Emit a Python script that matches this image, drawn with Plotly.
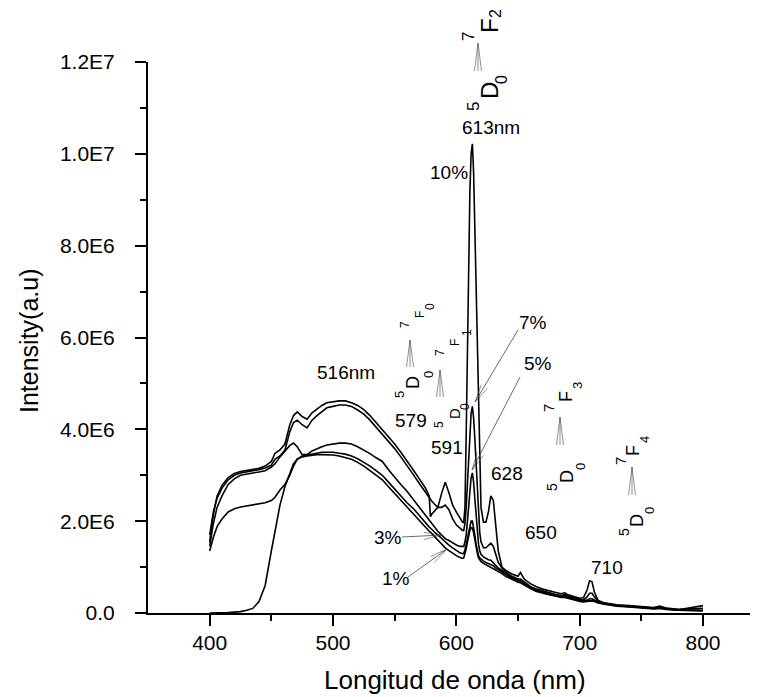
import plotly.graph_objects as go

# ---------------- data (intensity in units of 1E6 a.u.) ----------------
wavelength = [
    400, 403, 406, 410, 415, 420, 425, 430, 435, 440,
    445, 450, 453, 457, 461, 465, 468, 471, 475, 479,
    483, 487, 491, 495, 500, 505, 510, 515, 520, 525,
    530, 535, 540, 545, 550, 555, 560, 565, 570, 575,
    578, 579, 580, 582, 585, 588, 591, 594, 597, 600,
    603, 605, 606, 607, 608, 609, 610, 611, 612, 613,
    614, 615, 616, 617, 618, 619, 620, 622,
    624, 626, 628, 630, 632, 634, 637, 640, 645, 650,
    652, 655, 660, 665, 670, 675, 680, 685, 688, 690,
    695, 700, 703, 706, 708, 710, 712, 715, 720, 730,
    740, 750, 760, 765, 770, 780, 790, 800,
]

int_10 = [
    1.55, 2.15, 2.55, 2.78, 2.95, 3.04, 3.08, 3.10, 3.12, 3.15,
    3.20, 3.30, 3.48, 3.55, 3.68, 4.10, 4.30, 4.38, 4.28, 4.22,
    4.36, 4.45, 4.52, 4.58, 4.60, 4.62, 4.62, 4.58, 4.52, 4.43,
    4.30, 4.15, 4.00, 3.85, 3.68, 3.50, 3.32, 3.12, 2.92, 2.72,
    2.55, 2.10, 2.15, 2.22, 2.30, 2.60, 2.85, 2.62, 2.35, 2.20,
    2.05, 1.98, 1.97, 2.30, 3.90, 5.80, 7.60, 9.20, 10.00, 10.22,
    9.60, 8.40, 7.20, 5.90, 4.50, 3.20, 2.30, 1.98,
    1.98, 2.20, 2.55, 2.45, 1.80, 1.35, 1.00, 0.93, 0.85, 0.80,
    0.88, 0.74, 0.64, 0.57, 0.52, 0.48, 0.45, 0.42, 0.44, 0.40,
    0.36, 0.32, 0.33, 0.50, 0.70, 0.68, 0.45, 0.27, 0.22, 0.18,
    0.16, 0.14, 0.12, 0.15, 0.11, 0.08, 0.09, 0.10,
]

int_7 = [
    1.70, 2.20, 2.50, 2.72, 2.90, 3.00, 3.05, 3.08, 3.10, 3.12,
    3.16, 3.22, 3.35, 3.42, 3.55, 3.95, 4.15, 4.20, 4.10, 4.03,
    4.20, 4.30, 4.38, 4.47, 4.50, 4.53, 4.53, 4.50, 4.42, 4.33,
    4.20, 4.05, 3.90, 3.75, 3.58, 3.40, 3.22, 3.02, 2.82, 2.62,
    2.50, 2.47, 2.44, 2.38, 2.30, 2.30, 2.35, 2.25, 2.05, 1.92,
    1.85, 1.80, 1.80, 1.95, 2.30, 2.80, 3.30, 3.85, 4.35, 4.50,
    4.25, 3.80, 3.20, 2.60, 2.10, 1.75, 1.55, 1.42,
    1.42, 1.47, 1.52, 1.45, 1.25, 1.10, 0.98, 0.90, 0.80, 0.74,
    0.74, 0.68, 0.58, 0.52, 0.48, 0.44, 0.41, 0.38, 0.40, 0.37,
    0.33, 0.29, 0.28, 0.35, 0.43, 0.43, 0.35, 0.26, 0.21, 0.17,
    0.15, 0.13, 0.11, 0.13, 0.10, 0.07, 0.06, 0.06,
]

int_5 = [
    1.45, 1.95, 2.30, 2.55, 2.80, 2.92, 3.00, 3.03, 3.05, 3.07,
    3.10, 3.18, 3.25, 3.40, 3.52, 3.65, 3.70, 3.62, 3.45, 3.45,
    3.53, 3.58, 3.62, 3.66, 3.68, 3.70, 3.70, 3.68, 3.62, 3.55,
    3.47, 3.38, 3.30, 3.12, 2.95, 2.80, 2.65, 2.48, 2.30, 2.12,
    2.02, 1.98, 1.95, 1.88, 1.78, 1.70, 1.62, 1.58, 1.52, 1.48,
    1.45, 1.44, 1.45, 1.55, 1.70, 2.00, 2.30, 2.60, 2.95, 3.05,
    2.85, 2.50, 2.10, 1.75, 1.50, 1.35, 1.28, 1.22,
    1.18, 1.16, 1.15, 1.10, 1.03, 0.98, 0.93, 0.87, 0.78, 0.72,
    0.70, 0.65, 0.56, 0.50, 0.46, 0.42, 0.39, 0.36, 0.37, 0.35,
    0.31, 0.27, 0.26, 0.28, 0.31, 0.31, 0.28, 0.24, 0.20, 0.16,
    0.14, 0.12, 0.10, 0.12, 0.09, 0.06, 0.05, 0.05,
]

int_3 = [
    1.35, 1.65, 1.88, 2.05, 2.20, 2.27, 2.31, 2.33, 2.35, 2.37,
    2.40, 2.45, 2.52, 2.68, 2.80, 3.00, 3.20, 3.35, 3.42, 3.44,
    3.46, 3.48, 3.50, 3.50, 3.50, 3.48, 3.46, 3.42, 3.36, 3.28,
    3.20, 3.10, 3.00, 2.85, 2.70, 2.55, 2.40, 2.28, 2.12, 1.95,
    1.87, 1.85, 1.82, 1.77, 1.70, 1.62, 1.55, 1.48, 1.42, 1.36,
    1.31, 1.29, 1.30, 1.38, 1.50, 1.65, 1.80, 1.92, 2.00, 2.00,
    1.88, 1.70, 1.50, 1.35, 1.25, 1.20, 1.17, 1.13,
    1.10, 1.08, 1.06, 1.03, 0.98, 0.94, 0.90, 0.84, 0.76, 0.70,
    0.68, 0.63, 0.55, 0.49, 0.45, 0.41, 0.38, 0.35, 0.35, 0.34,
    0.30, 0.26, 0.25, 0.26, 0.27, 0.27, 0.26, 0.23, 0.20, 0.16,
    0.14, 0.12, 0.10, 0.11, 0.09, 0.07, 0.12, 0.16,
]

int_1 = [
    0.00, 0.00, 0.00, 0.00, 0.01, 0.02, 0.03, 0.06, 0.10, 0.25,
    0.60, 1.35, 1.80, 2.35, 2.75, 3.05, 3.25, 3.35, 3.40, 3.42,
    3.44, 3.45, 3.45, 3.45, 3.44, 3.42, 3.38, 3.35, 3.28, 3.20,
    3.10, 3.00, 2.90, 2.75, 2.60, 2.45, 2.30, 2.17, 2.02, 1.86,
    1.78, 1.76, 1.73, 1.68, 1.58, 1.50, 1.42, 1.36, 1.30, 1.25,
    1.21, 1.19, 1.20, 1.28, 1.40, 1.55, 1.68, 1.80, 1.86, 1.85,
    1.75, 1.58, 1.42, 1.30, 1.20, 1.15, 1.12, 1.08,
    1.05, 1.03, 1.00, 0.97, 0.93, 0.90, 0.86, 0.80, 0.73, 0.67,
    0.66, 0.61, 0.53, 0.47, 0.43, 0.40, 0.37, 0.34, 0.34, 0.33,
    0.29, 0.25, 0.24, 0.25, 0.26, 0.26, 0.25, 0.22, 0.19, 0.15,
    0.13, 0.11, 0.09, 0.10, 0.08, 0.06, 0.05, 0.05,
]

series_names = ["1%", "3%", "5%", "7%", "10%"]
series_values = [int_1, int_3, int_5, int_7, int_10]
unit = 1e6

x_tick_vals = [400, 500, 600, 700, 800]
x_tick_text = ["400", "500", "600", "700", "800"]
x_minor_vals = [450, 550, 650, 750]
y_tick_vals = [0, 2e6, 4e6, 6e6, 8e6, 1e7, 1.2e7]
y_tick_text = ["0.0", "2.0E6", "4.0E6", "6.0E6", "8.0E6", "1.0E7", "1.2E7"]

# plain text labels: (text, x_px, y_px)  -- page pixel positions
plain_labels = [
    ("516nm", 346, 373), ("613nm", 491, 128), ("10%", 449, 172),
    ("579", 411, 420), ("591", 447, 447), ("628", 507, 473),
    ("650", 541, 532), ("710", 607, 567), ("7%", 533, 322),
    ("5%", 538, 363), ("3%", 388, 537), ("1%", 396, 578),
]
# rotated spectroscopic term glyphs: (glyph, x_px, y_px, font size)
term_glyphs = [
    # 7F2 / 5D0 over 613 nm
    ("7", 468, 37, 17), ("F", 489, 26, 24), ("2", 496, 14, 16),
    ("5", 473, 107, 17), ("D", 489, 91, 24), ("0", 502, 80, 16),
    # 7F0 / 5D0 (579)
    ("7", 405, 325, 12), ("F", 420, 315, 12), ("0", 430, 307, 12),
    ("5", 400, 395, 13), ("D", 413, 383, 18), ("0", 428, 375, 13),
    # 7F1 / 5D0 (591)
    ("7", 440, 353, 12), ("F", 455, 343, 12), ("1", 467, 333, 12),
    ("5", 439, 425, 12), ("D", 454, 414, 15), ("0", 465, 407, 12),
    # 7F3 / 5D0 (650)
    ("7", 549, 408, 15), ("F", 566, 397, 18), ("3", 577, 386, 13),
    ("5", 552, 487, 14), ("D", 567, 477, 18), ("0", 580, 467, 13),
    # 7F4 / 5D0 (710)
    ("7", 620, 461, 15), ("F", 633, 451, 18), ("4", 644, 440, 13),
    ("5", 624, 532, 14), ("D", 637, 521, 18), ("0", 649, 511, 13),
]
# vertical transition arrows: (x_px, y_bottom_px, y_tip_px)
transition_arrows = [(478, 71, 43), (410, 367, 340), (440, 397, 370),
                     (560, 445, 417), (632, 495, 467)]
# leader arrows: (x_tail, y_tail, x_tip, y_tip) in px
leader_arrows = [(518, 330, 475, 402), (520, 377, 472, 470),
                 (402, 537, 442, 535), (408, 577, 447, 549)]

# ---------------- layout geometry ----------------
# the page body has an 8 px margin, so the figure is drawn 8 px in from
# the top-left corner; plot area spans page px x 148..758, y 62..613
W, H = 750, 689
ML, MR, MT, MB = 140, 0, 54, 84
PX0, PX1, PY0, PY1 = 148, 758, 62, 613
FONT = "Liberation Sans, Arial, sans-serif"


def paper(xp, yp):
    return (xp - PX0) / (PX1 - PX0), (PY1 - yp) / (PY1 - PY0)


fig = go.Figure()
for name, vals in zip(series_names, series_values):
    fig.add_trace(go.Scatter(
        x=wavelength, y=[v * unit for v in vals], mode="lines", name=name,
        line=dict(color="black", width=1.6), showlegend=False,
        hoverinfo="skip"))

annotations = []
for text, xp, yp in plain_labels:
    xa, ya = paper(xp, yp)
    annotations.append(dict(text=text, x=xa, y=ya, xref="paper", yref="paper",
                            showarrow=False, xanchor="center", yanchor="middle",
                            font=dict(family=FONT, size=19, color="black")))
for text, xp, yp, fs in term_glyphs:
    xa, ya = paper(xp, yp)
    annotations.append(dict(text=text, x=xa, y=ya, xref="paper", yref="paper",
                            showarrow=False, textangle=-90, borderpad=0,
                            xanchor="center", yanchor="middle",
                            font=dict(family=FONT, size=fs, color="black")))
# axis titles
xa, ya = paper(455, 680)
annotations.append(dict(text="Longitud de onda (nm)", x=xa, y=ya, xref="paper",
                        yref="paper", showarrow=False, xanchor="center",
                        yanchor="middle",
                        font=dict(family=FONT, size=26, color="black")))
xa, ya = paper(29, 341)
annotations.append(dict(text="Intensity(a.u)", x=xa, y=ya, xref="paper",
                        yref="paper", showarrow=False, textangle=-90,
                        xanchor="center", yanchor="middle",
                        font=dict(family=FONT, size=25, color="black")))

shapes = []


def seg(x0, y0, x1, y1, w=0.7, c="#444444"):
    a = paper(x0, y0)
    b = paper(x1, y1)
    shapes.append(dict(type="line", xref="paper", yref="paper",
                       x0=a[0], y0=a[1], x1=b[0], y1=b[1],
                       line=dict(color=c, width=w)))


for x, yb, yt in transition_arrows:
    for dx in (-3.5, 0, 3.5):
        seg(x + dx, yb, x, yt, w=0.6)

for x0, y0, x1, y1 in leader_arrows:
    seg(x0, y0, x1, y1, w=0.8)
    dx, dy = x1 - x0, y1 - y0
    ln = (dx * dx + dy * dy) ** 0.5
    ux, uy = dx / ln, dy / ln
    nx, ny = -uy, ux
    L = 18
    for s in (-3.5, 3.5):
        seg(x1 - L * ux + s * nx, y1 - L * uy + s * ny, x1, y1, w=0.6)

fig.update_layout(
    width=W, height=H,
    margin=dict(l=ML, r=MR, t=MT, b=MB, pad=0),
    paper_bgcolor="white", plot_bgcolor="white",
    font=dict(family=FONT, color="black"),
    annotations=annotations, shapes=shapes,
    xaxis=dict(range=[350, 844.6], showline=True, linecolor="black",
               linewidth=2, ticks="outside", ticklen=11, tickwidth=2,
               tickcolor="black", tickmode="array", tickvals=x_tick_vals,
               ticktext=x_tick_text, showgrid=False, zeroline=False,
               tickfont=dict(family=FONT, size=21, color="black"),
               ticklabelstandoff=-1,
               minor=dict(tickmode="array", tickvals=x_minor_vals,
                          ticks="outside", ticklen=6, tickwidth=2,
                          tickcolor="black", showgrid=False)),
    yaxis=dict(range=[0, 1.2e7], showline=True, linecolor="black",
               linewidth=2, ticks="outside", ticklen=11, tickwidth=2,
               tickcolor="black", tickmode="array", tickvals=y_tick_vals,
               ticktext=y_tick_text, showgrid=False, zeroline=False,
               tickfont=dict(family=FONT, size=21, color="black"),
               ticklabelstandoff=16,
               minor=dict(tickmode="linear", tick0=0, dtick=1e6,
                          ticks="outside", ticklen=6, tickwidth=2,
                          tickcolor="black", showgrid=False)),
)

fig.write_html("out.html")
